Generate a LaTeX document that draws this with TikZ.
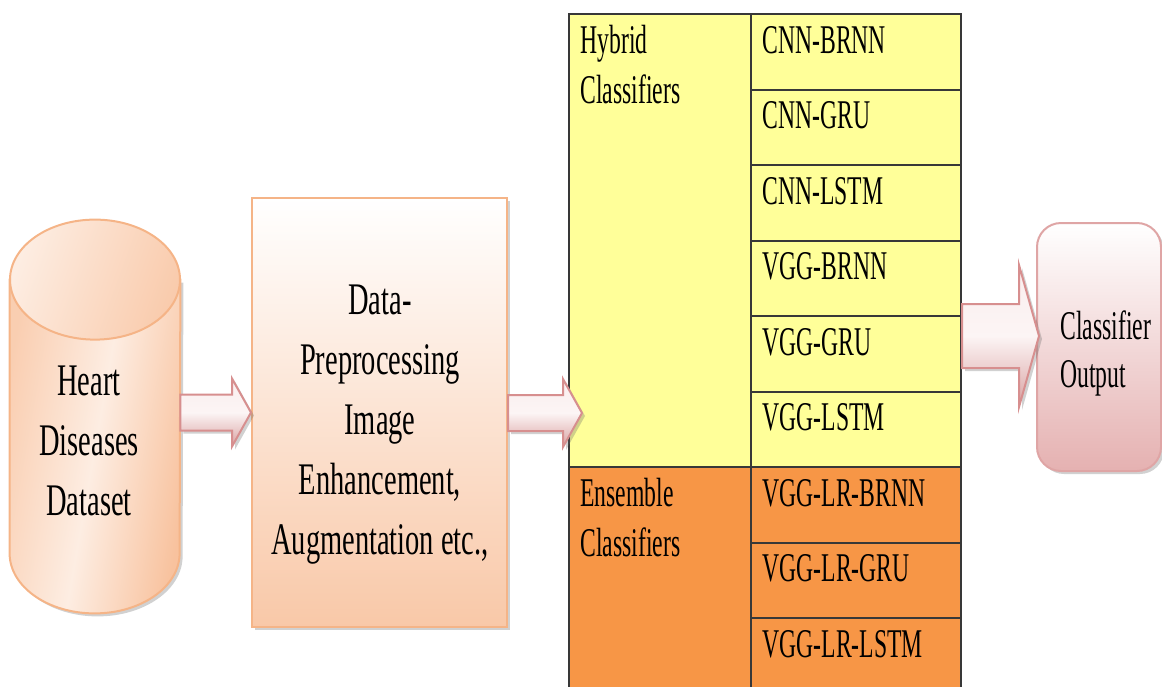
\documentclass[tikz,border=0pt]{standalone}
\usepackage{fontspec}
\setmainfont{Liberation Serif}[FakeStretch=0.63]
\newfontfamily\tblfont{Liberation Serif}[FakeStretch=0.58]
\usetikzlibrary{calc,shadows}

\definecolor{peachA}{HTML}{FDEDE2}
\definecolor{peachB}{HTML}{F8C29E}
\definecolor{peachLine}{HTML}{F5B487}
\definecolor{pinkA}{HTML}{FAEEEE}
\definecolor{pinkB}{HTML}{D9A1A1}
\definecolor{pinkLine}{HTML}{D78F8F}
\definecolor{outB}{HTML}{E5B1B1}
\definecolor{hybYellow}{HTML}{FFFF99}
\definecolor{ensOrange}{HTML}{F79646}
\definecolor{gridLine}{HTML}{383838}

\tikzset{
  softshadow/.style={drop shadow={shadow xshift=1.5pt, shadow yshift=-1.5pt, opacity=.3, fill=black!60}},
  bigtxt/.style={inner sep=0pt, align=center, font=\fontsize{22.6}{30}\selectfont},
  tbltxt/.style={inner sep=0pt, align=left, font=\tblfont\fontsize{20.4}{25}\selectfont},
  outtxt/.style={inner sep=0pt, align=left, font=\tblfont\fontsize{20.4}{24}\selectfont},
  barrow/.style={draw=pinkLine, line width=1pt, top color=pinkA, bottom color=pinkB, middle color=pinkA!60!white, softshadow},
  cylbody/.style={draw=peachLine, line width=1pt, left color=peachB!80!white, right color=peachB, middle color=peachA, shading angle=80, softshadow},
  cyltop/.style={draw=peachLine, line width=1pt, left color=peachA, right color=peachB!85!white, shading angle=70},
  prepbox/.style={draw=peachLine, line width=1pt, top color=white, bottom color=peachB!90!white, minimum width=127.5pt, minimum height=214.5pt, inner sep=0pt, softshadow},
  outbox/.style={draw=pinkLine!80!white, line width=1pt, top color=white, bottom color=outB, rounded corners=12pt, minimum width=62pt, minimum height=124pt, inner sep=0pt, softshadow},
  leftcell/.style={draw=gridLine, line width=1.1pt, anchor=north west, minimum width=91pt, inner sep=0pt},
  cell/.style={draw=gridLine, line width=1.1pt, anchor=north west, minimum width=105pt, minimum height=37.75pt, inner sep=0pt}
}

% block arrow: from #1 (x) to #2 (tip), body half #3, head half #4, head length #5
\newcommand\blockarrow[5]{%
  \path[barrow] let \p1=(#1), \p2=(#2) in
    (\x1,\y2+#3) -- (\x2-#5,\y2+#3) -- (\x2-#5,\y2+#4) -- (\x2,\y2)
    -- (\x2-#5,\y2-#4) -- (\x2-#5,\y2-#3) -- (\x1,\y2-#3) -- cycle;}

\begin{document}
\begin{tikzpicture}[x=0.5pt,y=-0.5pt]
  \useasboundingbox (0,0) rectangle (1162,686);

  % dataset cylinder
  \node[minimum width=85pt, minimum height=196.5pt, inner sep=0pt] (db) at (95,416.5) {};
  \path[cylbody] ($(db.north west)+(0,60)$) -- ($(db.south west)+(0,-60)$)
    arc[start angle=180, end angle=360, x radius=42.5pt, y radius=30pt]
    -- ($(db.north east)+(0,60)$) -- cycle;
  \path[cyltop] ($(db.north)+(0,60)$) ellipse [x radius=42.5pt, y radius=30pt];
  \node[bigtxt] (dbtxt) at (89,441) {Heart\\Diseases\\Dataset};

  % preprocessing
  \node[prepbox] (prep) at (379.5,412.5) {};
  \node[bigtxt] (preptxt) at (380,425) {Data-\\Preprocessing\\Image\\Enhancement,\\Augmentation etc.,};

  \blockarrow{db.east}{prep.west}{9pt}{17pt}{9.5pt}

  % classifier table
  \node[leftcell, fill=hybYellow, minimum height=226.5pt] (hyb) at (568,13) {};
  \node[leftcell, fill=ensOrange, minimum height=113.25pt] (ens) at (568,466) {};
  \node[cell, fill=hybYellow] (r1) at (750,13) {};
  \node[cell, fill=hybYellow] (r2) at (750,88.5) {};
  \node[cell, fill=hybYellow] (r3) at (750,164) {};
  \node[cell, fill=hybYellow] (r4) at (750,239.5) {};
  \node[cell, fill=hybYellow] (r5) at (750,315) {};
  \node[cell, fill=hybYellow] (r6) at (750,390.5) {};
  \node[cell, fill=ensOrange] (r7) at (750,466) {};
  \node[cell, fill=ensOrange] (r8) at (750,541.5) {};
  \node[cell, fill=ensOrange] (r9) at (750,617) {};

  \node[tbltxt, anchor=north west] (hybtxt) at ($(hyb.north west)+(12,12)$) {Hybrid\\Classifiers};
  \node[tbltxt, anchor=north west] (enstxt) at ($(ens.north west)+(12,12)$) {Ensemble\\Classifiers};
  \node[tbltxt, anchor=west] (t1) at ($(r1.north west)+(12,27)$) {CNN-BRNN};
  \node[tbltxt, anchor=west] (t2) at ($(r2.north west)+(12,27)$) {CNN-GRU};
  \node[tbltxt, anchor=west] (t3) at ($(r3.north west)+(12,27)$) {CNN-LSTM};
  \node[tbltxt, anchor=west] (t4) at ($(r4.north west)+(12,27)$) {VGG-BRNN};
  \node[tbltxt, anchor=west] (t5) at ($(r5.north west)+(12,27)$) {VGG-GRU};
  \node[tbltxt, anchor=west] (t6) at ($(r6.north west)+(12,27)$) {VGG-LSTM};
  \node[tbltxt, anchor=west] (t7) at ($(r7.north west)+(12,27)$) {VGG-LR-BRNN};
  \node[tbltxt, anchor=west] (t8) at ($(r8.north west)+(12,27)$) {VGG-LR-GRU};
  \node[tbltxt, anchor=west] (t9) at ($(r9.north west)+(12,27)$) {VGG-LR-LSTM};

  \coordinate (tip2) at (582,413);
  \blockarrow{prep.east}{tip2}{9pt}{17pt}{9.5pt}

  % output
  \node[outbox, anchor=north west] (out) at (1036,222) {};
  \node[outtxt, anchor=north west] (outlbl) at ($(out.north west)+(24,88)$) {Classifier\\Output};

  \coordinate (tip3) at (1039,336);
  \blockarrow{r4.east}{tip3}{16pt}{35.5pt}{10pt}
\end{tikzpicture}
\end{document}
